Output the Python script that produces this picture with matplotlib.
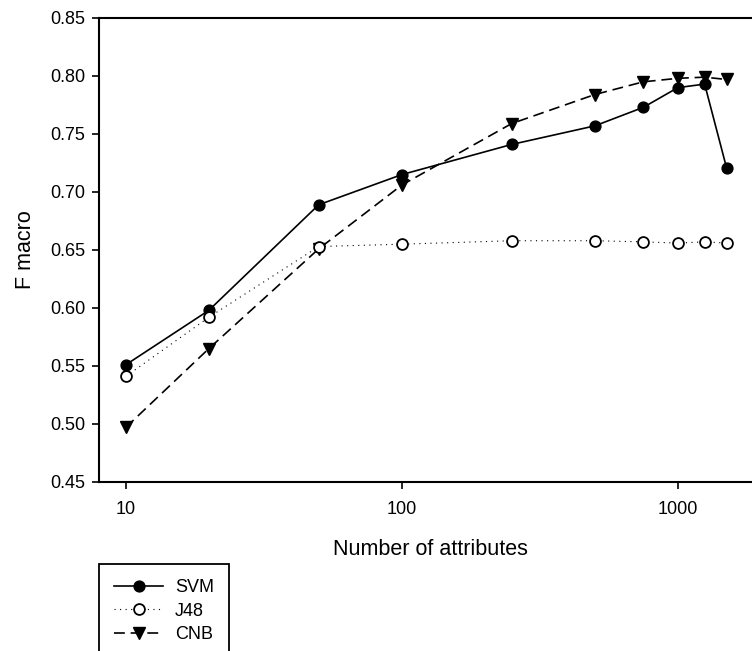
import matplotlib
matplotlib.use("Agg")
import matplotlib.pyplot as plt

plt.rcParams['font.family'] = ['Liberation Sans', 'DejaVu Sans']

# number of attributes kept after feature selection
n_attributes = [10, 20, 50, 100, 250, 500, 750, 1000, 1250, 1500]

# macro-averaged F score for each classifier
svm = [0.551, 0.598, 0.689, 0.715, 0.741, 0.757, 0.773, 0.790, 0.793, 0.721]
j48 = [0.541, 0.592, 0.653, 0.655, 0.658, 0.658, 0.657, 0.656, 0.657, 0.656]
cnb = [0.497, 0.565, 0.651, 0.706, 0.759, 0.784, 0.795, 0.798, 0.799, 0.797]

xticks = [10, 100, 1000]
yticks = [0.45, 0.50, 0.55, 0.60, 0.65, 0.70, 0.75, 0.80, 0.85]

fig = plt.figure(figsize=(7.52, 6.51), dpi=100)
ax = fig.add_axes([99 / 752, 1 - 482 / 651, 662 / 752, 464 / 651])

ax.plot(n_attributes, svm, color='black', lw=1.2, marker='o', ms=7.8,
        mfc='black', mec='black', label='SVM', zorder=3)
ax.plot(n_attributes, j48, color='black', lw=0.8, dashes=(1, 4), marker='o', ms=7.8,
        mfc='white', mec='black', mew=1.3, label='J48', zorder=4)
ax.plot(n_attributes, cnb, color='black', lw=1.2, dashes=(6.5, 3.5), marker='v', ms=8.5,
        mfc='black', mec='black', label='CNB', zorder=3)

ax.set_xscale('log')
ax.set_xlim(8, 2000)
ax.set_ylim(0.45, 0.85)
ax.set_xticks(xticks)
ax.set_xticklabels([str(t) for t in xticks])
ax.xaxis.set_minor_locator(matplotlib.ticker.NullLocator())
ax.set_yticks(yticks)
ax.set_yticklabels(['%.2f' % t for t in yticks])

ax.tick_params(axis='both', which='major', direction='out', length=5, width=1.2,
               labelsize=13, top=False, right=False)
ax.tick_params(axis='x', pad=9)
ax.tick_params(axis='y', pad=5)
for side in ['left', 'bottom', 'top']:
    ax.spines[side].set_linewidth(1.5)
ax.spines['right'].set_visible(False)

ax.set_xlabel('Number of attributes', fontsize=15.5, labelpad=15)
ax.set_ylabel('F macro', fontsize=15.5, labelpad=10)

leg = fig.legend(loc='upper left', bbox_to_anchor=(99 / 752, 1 - 564 / 651),
                 borderaxespad=0, fontsize=13, numpoints=1, handlelength=2.7,
                 handletextpad=0.65, borderpad=0.85, labelspacing=0.35,
                 fancybox=False, edgecolor='black', framealpha=1)
leg.get_frame().set_linewidth(1.3)

fig.savefig('out.png', dpi=100)
